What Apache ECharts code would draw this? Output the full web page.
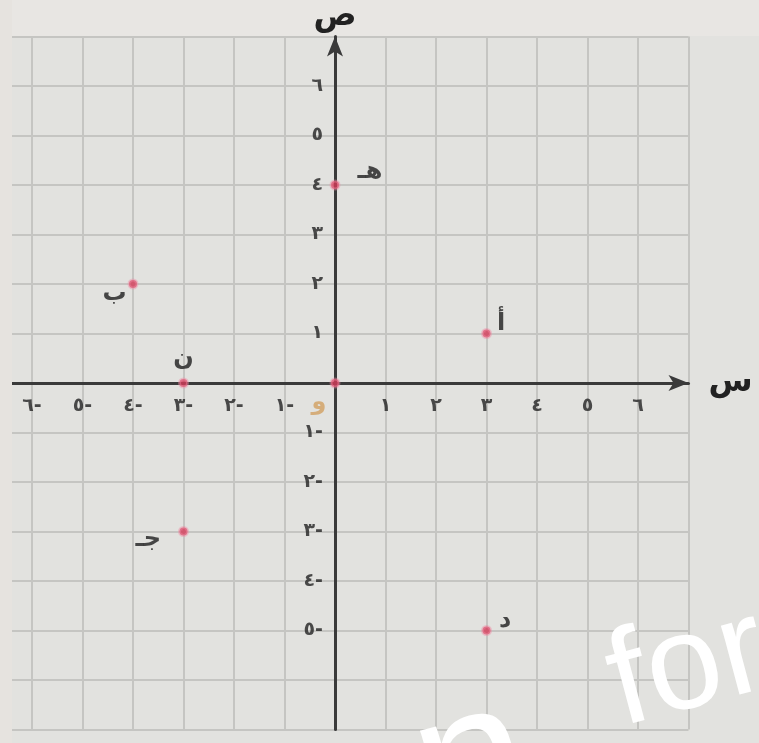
<!DOCTYPE html>
<html>
<head>
<meta charset="utf-8">
<script src="https://cdn.jsdelivr.net/npm/echarts@6/dist/echarts.min.js"></script>
<style>
html,body{margin:0;padding:0;background:#e2e2df;}
#chart{width:759px;height:743px;}
</style>
</head>
<body>
<div id="chart"></div>
<script>
// ---- data ----
const pointNames = ['أ', 'ب', 'جـ', 'د', 'هـ', 'ن', 'و'];
const pointX = [3, -4, -3, 3, 0, -3, 0];
const pointY = [1, 2, -3, -5, 4, 0, 0];
const tickValues = [-6, -5, -4, -3, -2, -1, 1, 2, 3, 4, 5, 6];
const xTickLabels = ['٦-', '٥-', '٤-', '٣-', '٢-', '١-', '١', '٢', '٣', '٤', '٥', '٦'];
const yTickLabels = ['', '٥-', '٤-', '٣-', '٢-', '١-', '١', '٢', '٣', '٤', '٥', '٦'];
const xAxisName = 'س';
const yAxisName = 'ص';
const watermarkWords = ['n', 'for'];

// ---- styles (label placement per point) ----
const labelStyle = {
  'أ': { position: 'right', offset: [0, -10] },
  'ب': { position: 'left', offset: [4, 10] },
  'جـ': { position: 'left', offset: [-12, 8] },
  'د': { position: 'right', offset: [2, -10] },
  'هـ': { position: 'right', offset: [12, -13] },
  'ن': { position: 'top', offset: [0, -2] },
  'و': { position: 'left', offset: [2, 20], color: '#d2a060' }
};

const font = 'DejaVu Sans, Noto Sans, sans-serif';
const tickText = { color: '#222', fontSize: 19, fontWeight: 'bold', fontFamily: font };

const chart = echarts.init(document.getElementById('chart'));

const seriesData = pointNames.map((n, i) => {
  const s = labelStyle[n] || {};
  return {
    name: n,
    value: [pointX[i], pointY[i]],
    label: { show: true, position: s.position, offset: s.offset, color: s.color || '#1e1e1e' }
  };
});

const xTickData = tickValues.map((v, i) => ({ value: [v, 0], name: xTickLabels[i] }));
const yTickData = tickValues.map((v, i) => ({ value: [0, v], name: yTickLabels[i] }));

chart.setOption({
  backgroundColor: '#e2e2df',
  animation: false,
  grid: { left: -18.5, right: 70.5, top: 36.5, bottom: 13.5, outerBoundsMode: 'none', containLabel: false },
  xAxis: {
    type: 'value',
    min: -7, max: 7, interval: 1,
    name: xAxisName,
    nameLocation: 'end',
    nameGap: 20,
    nameTextStyle: { fontSize: 32, color: '#222', fontFamily: font, fontWeight: 'bold', padding: [30, 0, 0, 0] },
    axisLine: { onZero: true, symbol: ['none', 'arrow'], symbolSize: [12, 20], lineStyle: { color: '#3a3a3a', width: 3 } },
    axisTick: { show: false },
    axisLabel: { show: false },
    splitLine: { show: true, lineStyle: { color: '#c5c5c2', width: 2 } }
  },
  yAxis: {
    type: 'value',
    min: -7, max: 7, interval: 1,
    name: yAxisName,
    nameLocation: 'end',
    nameGap: 4,
    nameTextStyle: { fontSize: 32, color: '#222', fontFamily: font, fontWeight: 'bold' },
    axisLine: { onZero: true, symbol: ['none', 'arrow'], symbolSize: [12, 20], lineStyle: { color: '#3a3a3a', width: 3 } },
    axisTick: { show: false },
    axisLabel: { show: false },
    splitLine: { show: true, lineStyle: { color: '#c5c5c2', width: 2 } }
  },
  graphic: [
    { type: 'rect', z: 50, shape: { x: 0, y: 0, width: 12, height: 743 }, style: { fill: '#e6e3df' } },
    { type: 'rect', z: 0, shape: { x: 0, y: 0, width: 759, height: 36 }, style: { fill: '#e8e6e3' } },
    {
      type: 'text', z: 100, x: 420, y: 783, rotation: 0.26,
      style: { text: watermarkWords[0], fill: '#ffffff', font: 'normal 200px "Liberation Sans", sans-serif', verticalAlign: 'middle' }
    },
    {
      type: 'text', z: 100, x: 612, y: 690, rotation: 0.26,
      style: { text: watermarkWords[1], fill: '#ffffff', font: 'normal 135px "Liberation Sans", sans-serif', verticalAlign: 'middle' }
    }
  ],
  series: [
    {
      type: 'scatter', name: 'xticks', symbolSize: 0, silent: true,
      label: { show: true, position: 'bottom', distance: 14, formatter: p => p.name, ...tickText },
      data: xTickData
    },
    {
      type: 'scatter', name: 'yticks', symbolSize: 0, silent: true,
      label: { show: true, position: 'left', distance: 12, formatter: p => p.name, ...tickText },
      data: yTickData
    },
    {
      type: 'scatter', name: 'points', z: 10,
      symbolSize: 8,
      itemStyle: { color: '#d43c5a', borderColor: 'rgba(240,140,165,0.55)', borderWidth: 3 },
      label: { show: true, formatter: p => p.name, fontSize: 24, fontWeight: 'bold', fontFamily: font },
      data: seriesData
    }
  ]
});
</script>
</body>
</html>
